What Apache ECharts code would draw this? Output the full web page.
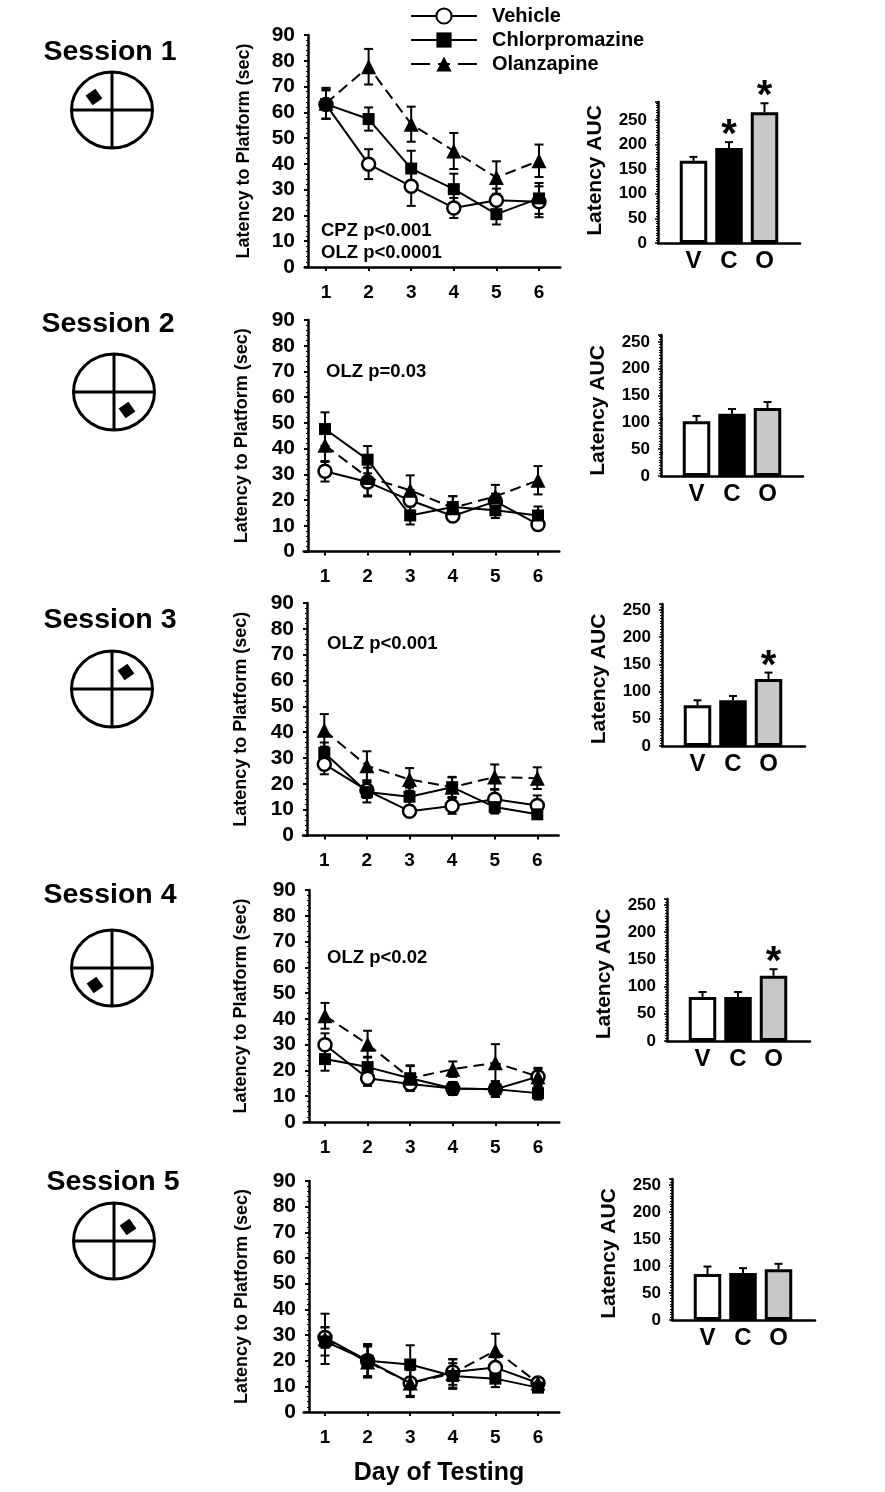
<!DOCTYPE html>
<html><head><meta charset="utf-8">
<style>html,body{margin:0;padding:0;background:#fff}#c{width:885px;height:1492px}</style>
<script src="https://cdn.jsdelivr.net/npm/echarts@6/dist/echarts.min.js"></script>
</head><body><div id="c"></div>
<script>
// ---------- data ----------
const days = ['1','2','3','4','5','6'];
const groupNames = ['Vehicle','Chlorpromazine','Olanzapine'];
const barLabels = ['V','C','O'];
const latencyTicks = [0,10,20,30,40,50,60,70,80,90];

const veh1 = [63,39.9,31.3,22.9,25.9,25.3];      const veh1Err = [5.5,5.8,7.6,3.9,4.5,6];
const cpz1 = [63.2,57.4,38.2,30.2,20.5,26.6];    const cpz1Err = [5.7,4.5,6.9,6,4,6];
const olz1 = [63.5,77.7,55.4,45,34.7,41.2];      const olz1Err = [6,6.9,6.8,7,6.3,6.3];

const veh2 = [31.2,27,19.9,13.8,19.5,10.5];      const veh2Err = [4,5.6,4,2,3,2];
const cpz2 = [47.6,35.7,14,17.3,16,14];          const cpz2Err = [6.5,5.3,3.5,4.2,3,3.5];
const olz2 = [41.3,28.8,23.8,17,21.4,27.7];      const olz2Err = [6.5,7,5.8,4.5,4.5,5.5];

const veh3 = [27.6,17.5,9.4,11.4,14,11.6];       const veh3Err = [3.9,3,1.5,3,4,3.9];
const cpz3 = [32,16.8,15,18.7,11,8.2];           const cpz3Err = [4,4,3.5,3.8,2.5,1.5];
const olz3 = [40.7,27,21.7,18.7,22.6,22.2];      const olz3Err = [6.3,5.6,4.4,4,4.9,4.2];

const veh4 = [30,17,14.7,13,12.7,17.6];          const veh4Err = [4.4,3,2.5,2.5,3,3];
const cpz4 = [24.4,21.3,17,13,12.7,11.2];        const cpz4Err = [4.5,4,4.7,2.5,3,2.5];
const olz4 = [41.2,30.2,17,20.5,23,17.6];        const olz4Err = [5,5.2,5,3,7.2,3.4];

const veh5 = [29,20,11.3,15.6,17.3,11.3];        const veh5Err = [4,6,5,5,4,1];
const cpz5 = [27.5,20,18.5,14,13,9.5];           const cpz5Err = [5.5,6.5,7.5,5,3.3,1];
const olz5 = [28.5,19.5,11.3,15,24,11.3];        const olz5Err = [9.8,6,5.5,5.5,6.5,1.5];

const auc1 = [167,193,266];  const auc1Err = [8,12,18];  const auc1Sig = [0,1,1];
const auc2 = [102,116,127];  const auc2Err = [10,9,11];  const auc2Sig = [0,0,0];
const auc3 = [75,84,123];    const auc3Err = [9,8,12];   const auc3Sig = [0,0,1];
const auc4 = [81,81,120];    const auc4Err = [9,9,12];   const auc4Sig = [0,0,1];
const auc5 = [85,87,94];     const auc5Err = [14,9,10];  const auc5Sig = [0,0,0];

const sessionTitles = ['Session 1','Session 2','Session 3','Session 4','Session 5'];
const pNotes = [['CPZ p<0.001','OLZ p<0.0001'],['OLZ p=0.03'],['OLZ p<0.001'],['OLZ p<0.02'],[]];

// ---------- assembled tables ----------
const lineData = [[veh1,cpz1,olz1],[veh2,cpz2,olz2],[veh3,cpz3,olz3],[veh4,cpz4,olz4],[veh5,cpz5,olz5]];
const lineErr  = [[veh1Err,cpz1Err,olz1Err],[veh2Err,cpz2Err,olz2Err],[veh3Err,cpz3Err,olz3Err],[veh4Err,cpz4Err,olz4Err],[veh5Err,cpz5Err,olz5Err]];
const aucData = [auc1,auc2,auc3,auc4,auc5];
const aucErr  = [auc1Err,auc2Err,auc3Err,auc4Err,auc5Err];
const aucSig  = [auc1Sig,auc2Sig,auc3Sig,auc4Sig,auc5Sig];

// ---------- layout ----------
const FONT = '"Liberation Sans", Arial, sans-serif';
const band = 42.6;
const lineLayout = [
 {tick1:326, axis:308, top:35,  bottom:267,  nameGap:55},
 {tick1:325, axis:308, top:320, bottom:551.5,nameGap:57},
 {tick1:324.3,axis:307,top:603, bottom:835.5,nameGap:57},
 {tick1:325, axis:309, top:890, bottom:1122, nameGap:59},
 {tick1:325, axis:309, top:1181,bottom:1412, nameGap:58}
];
const barLayout = [
 {axis:658, end:800, top:102, y0:243,  y250:120, unit:35.5, nameShift:-2},
 {axis:661, end:803, top:335, y0:476,  y250:342, unit:35.5, nameShift:5},
 {axis:662, end:805, top:604, y0:746,  y250:610, unit:35.5, nameShift:4},
 {axis:667, end:810, top:899, y0:1041, y250:905, unit:35.5, nameShift:4},
 {axis:672, end:815, top:1179,y0:1320, y250:1185,unit:35.5, nameShift:4}
];
const titleLayout = [[110,52],[108,324],[110,620],[110,895],[113,1182]];
const wheelLayout = [
 {c:[112,110], d:[94,97]},
 {c:[114,392], d:[127,410]},
 {c:[112,689], d:[126,672]},
 {c:[112,968], d:[95,985]},
 {c:[114,1241],d:[128,1227]}
];
const noteLayout = [[[321,231],[321,253]],[[326,372]],[[327,644]],[[327,958]],[]];
const barFill = ['#ffffff','#000000','#c8c8c8'];

const grid=[], xAxis=[], yAxis=[], series=[], graphic=[];

function errBarRender(capHalf, upperOnly){
  return function(params, api){
    const x = api.value(0), v = api.value(1), e = api.value(2), sig = api.value(3);
    const c = api.coord([x,v]), hi = api.coord([x,v+e]), lo = api.coord([x,upperOnly?v:v-e]);
    const st = {stroke:'#000',lineWidth:2,fill:null};
    const kids = [
      {type:'line',shape:{x1:c[0],y1:lo[1],x2:c[0],y2:hi[1]},style:st},
      {type:'line',shape:{x1:c[0]-capHalf,y1:hi[1],x2:c[0]+capHalf,y2:hi[1]},style:st}
    ];
    if(!upperOnly) kids.push({type:'line',shape:{x1:c[0]-capHalf,y1:lo[1],x2:c[0]+capHalf,y2:lo[1]},style:st});
    if(sig) kids.push({type:'text',x:c[0],y:hi[1]-6,style:{text:'*',font:'bold 40px '+FONT,fill:'#000',textAlign:'center',textVerticalAlign:'middle'}});
    return {type:'group',children:kids};
  };
}

lineLayout.forEach((L,i)=>{
  const idx = grid.length;
  const left = L.tick1 - band/2;
  grid.push({left, top:L.top, width:band*6, height:L.bottom-L.top, containLabel:false});
  xAxis.push({gridIndex:idx,type:'category',data:days,boundaryGap:true,
    axisLine:{show:true,onZero:false,lineStyle:{color:'#000',width:2.5}},
    axisTick:{show:true,alignWithLabel:true,length:4,lineStyle:{color:'#000',width:2}},
    axisLabel:{interval:0,margin:16,color:'#000',fontFamily:FONT,fontWeight:'bold',fontSize:19},
    splitLine:{show:false}});
  yAxis.push({gridIndex:idx,type:'value',min:0,max:90,interval:10,offset:left-L.axis,
    name:'Latency to Platform (sec)',nameLocation:'middle',nameGap:L.nameGap,nameRotate:90,
    nameTextStyle:{color:'#000',fontFamily:FONT,fontWeight:'bold',fontSize:18},
    axisLine:{show:true,lineStyle:{color:'#000',width:2.5}},
    axisTick:{show:true,length:4,lineStyle:{color:'#000',width:2}},
    minorTick:{show:true,splitNumber:5,length:2,lineStyle:{color:'#000',width:1}},
    axisLabel:{margin:13,color:'#000',fontFamily:FONT,fontWeight:'bold',fontSize:21,
      formatter:v=>latencyTicks.includes(v)?String(v):''},
    splitLine:{show:false},minorSplitLine:{show:false}});
  const styles = [
    {symbol:'circle',symbolSize:13,itemStyle:{color:'#fff',borderColor:'#000',borderWidth:2.5},lineStyle:{color:'#000',width:2,type:'solid'}},
    {symbol:'rect',symbolSize:12,itemStyle:{color:'#000'},lineStyle:{color:'#000',width:2,type:'solid'}},
    {symbol:'triangle',symbolSize:15,itemStyle:{color:'#000'},lineStyle:{color:'#000',width:2,type:[11,6]}}
  ];
  [0,1,2].forEach(g=>{
    series.push({type:'custom',silent:true,xAxisIndex:idx,yAxisIndex:idx,clip:false,z:2,
      renderItem:errBarRender(4.5,false),
      data:days.map((d,k)=>[k,lineData[i][g][k],lineErr[i][g][k],0])});
  });
  [0,1,2].forEach(g=>{
    series.push(Object.assign({type:'line',name:groupNames[g],xAxisIndex:idx,yAxisIndex:idx,
      data:lineData[i][g],showSymbol:true,showAllSymbol:true,z:3+g,silent:true,clip:false},styles[g]));
  });
});

barLayout.forEach((B,i)=>{
  const idx = grid.length;
  const pxPerUnit = (B.y0-B.y250)/250;
  const yMax = (B.y0-B.top)/pxPerUnit;
  const s = B.nameShift;
  grid.push({left:B.axis, top:B.top, width:B.end-B.axis, height:B.y0-B.top});
  xAxis.push({gridIndex:idx,type:'value',min:0,max:(B.end-B.axis)/B.unit,interval:1,
    axisLine:{show:true,onZero:false,lineStyle:{color:'#000',width:2.5}},
    axisTick:{show:false},splitLine:{show:false},
    axisLabel:{margin:6,color:'#000',fontFamily:FONT,fontWeight:'bold',fontSize:24,
      showMinLabel:true,showMaxLabel:true,hideOverlap:false,
      formatter:v=>barLabels[v-1]||''}});
  yAxis.push({gridIndex:idx,type:'value',min:0,max:yMax,interval:50,
    name:'Latency AUC',nameLocation:'middle',nameGap:52,nameRotate:90,
    nameTextStyle:{color:'#000',fontFamily:FONT,fontWeight:'bold',fontSize:21,
      padding:s>0?[0,2*s,0,0]:[0,0,0,-2*s]},
    axisLine:{show:true,lineStyle:{color:'#000',width:2.5}},
    axisTick:{show:true,length:3,lineStyle:{color:'#000',width:1.5}},
    minorTick:{show:true,splitNumber:10,length:2,lineStyle:{color:'#000',width:1}},
    axisLabel:{margin:11,color:'#000',fontFamily:FONT,fontWeight:'bold',fontSize:17,showMaxLabel:false},
    splitLine:{show:false},minorSplitLine:{show:false}});
  series.push({type:'custom',silent:true,xAxisIndex:idx,yAxisIndex:idx,clip:false,z:2,
    renderItem:errBarRender(4,true),
    data:barLabels.map((l,k)=>[k+1,aucData[i][k],aucErr[i][k],aucSig[i][k]])});
  series.push({type:'bar',silent:true,xAxisIndex:idx,yAxisIndex:idx,barWidth:27.5,z:3,
    data:barLabels.map((l,k)=>({value:[k+1,aucData[i][k]],
      itemStyle:{color:barFill[k],borderColor:'#000',borderWidth:3}}))});
});

// session headings and maze diagrams
sessionTitles.forEach((t,i)=>{
  const [tx,ty]=titleLayout[i];
  graphic.push({type:'text',x:tx,y:ty,style:{text:t,font:'bold 28.5px '+FONT,fill:'#000',textAlign:'center',textVerticalAlign:'middle'}});
  const W=wheelLayout[i], rx=40.5, ry=38;
  const st={stroke:'#000',lineWidth:3,fill:null};
  graphic.push({type:'ellipse',shape:{cx:W.c[0],cy:W.c[1],rx,ry},style:{stroke:'#000',lineWidth:3,fill:'#fff'}});
  graphic.push({type:'line',shape:{x1:W.c[0]-rx,y1:W.c[1],x2:W.c[0]+rx,y2:W.c[1]},style:st});
  graphic.push({type:'line',shape:{x1:W.c[0],y1:W.c[1]-ry,x2:W.c[0],y2:W.c[1]+ry},style:st});
  graphic.push({type:'rect',x:W.d[0],y:W.d[1],rotation:0.62,shape:{x:-6,y:-6,width:12,height:12},style:{fill:'#000'}});
  pNotes[i].forEach((n,k)=>{
    const [nx,ny]=noteLayout[i][k];
    graphic.push({type:'text',x:nx,y:ny,style:{text:n,font:'bold 18.5px '+FONT,fill:'#000',textAlign:'left',textVerticalAlign:'middle'}});
  });
});
graphic.push({type:'text',x:439,y:1473,style:{text:'Day of Testing',font:'bold 25px '+FONT,fill:'#000',textAlign:'center',textVerticalAlign:'middle'}});

const chart = echarts.init(document.getElementById('c'),null,{renderer:'canvas',width:885,height:1492});
chart.setOption({
  animation:false,backgroundColor:'#fff',
  legend:{data:[{name:groupNames[0]},{name:groupNames[1]},
      {name:groupNames[2],lineStyle:{type:[19,8,12,8,19]}}],
    orient:'vertical',left:405,top:1,itemWidth:66,itemHeight:19,itemGap:4,
    selectedMode:false,textStyle:{color:'#000',fontFamily:FONT,fontWeight:'bold',fontSize:20,padding:[0,0,0,10]}},
  grid,xAxis,yAxis,series,graphic
});
</script></body></html>
